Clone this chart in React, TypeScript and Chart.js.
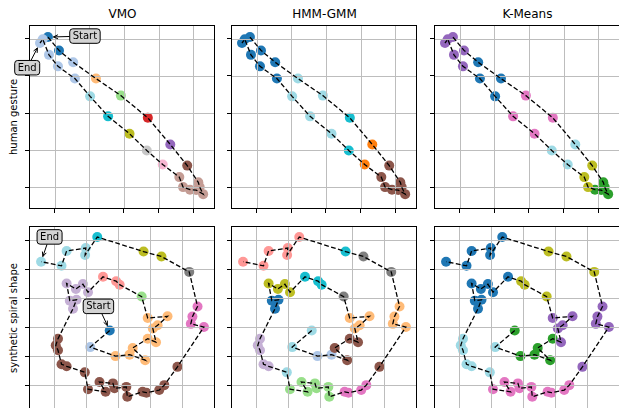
import React, { useEffect, useRef } from 'react';
import { Chart, registerables } from 'chart.js';

Chart.register(...registerables);

const TAB20 = [
  '#1f77b4', '#aec7e8', '#ff7f0e', '#ffbb78', '#2ca02c', '#98df8a', '#d62728', '#ff9896',
  '#9467bd', '#c5b0d5', '#8c564b', '#c49c94', '#e377c2', '#f7b6d2', '#7f7f7f', '#c7c7c7',
  '#bcbd22', '#dbdb8d', '#17becf', '#9edae5',
];

const titles = ['VMO', 'HMM-GMM', 'K-Means'];
const rowLabels = ['human gesture', 'synthetic spiral shape'];

// ---- human gesture trajectory ----
const gestureX = [-0.2, 0.12, 0.53, 1.19, 1.91, 2.69, 3.34, 3.83, 4.15, 4.19, 4.29, 4.09, 3.91, 3.71, 3.6, 3.12, 2.66, 2.16, 1.54, 1.02, 0.58, 0.09, -0.17, -0.35, -0.43];
const gestureY = [4.05, 3.69, 3.37, 2.93, 2.47, 1.87, 1.15, 0.58, 0.13, 0.0, -0.19, -0.08, -0.07, 0.0, 0.27, 0.61, 0.99, 1.44, 1.91, 2.45, 2.93, 3.26, 3.57, 3.99, 3.89];
const gestureVMO = [0, 0, 1, 3, 5, 6, 8, 10, 11, 11, 11, 11, 11, 11, 11, 13, 15, 16, 18, 19, 1, 1, 1, 1, 1];
const gestureHMM = [0, 0, 0, 19, 19, 18, 2, 10, 10, 10, 10, 10, 10, 10, 10, 2, 18, 19, 19, 19, 0, 0, 0, 0, 0];
const gestureKM = [8, 8, 0, 0, 12, 12, 19, 16, 4, 4, 4, 4, 4, 16, 16, 19, 19, 12, 12, 0, 0, 8, 8, 8, 8];
const gestureXTicks = [0, 1, 2, 3, 4];
const gestureYTicks = [0, 1, 2, 3, 4];

// ---- synthetic spiral trajectory ----
const spiralX = [1.74, 1.13, 1.92, 2.36, 2.85, 2.46, 2.93, 3.19, 3.09, 3.24, 3.55, 2.93, 2.74, 2.05, 1.94, 1.53, 1.06, 0.9, 0.68, 0.39, 0.49, 0.7, 0.59, 0.12, 0.05, 0.12, 0.23, 0.39, 0.96, 1.06, 1.61, 1.42, 1.84, 1.89, 2.26, 2.29, 2.77, 2.89, 3.29, 3.45, 3.86, 4.69, 4.28, 4.33, 4.49, 4.23, 3.36, 2.8, 1.35, 0.97, 0.99, 0.39, 0.23, -0.41];
const spiralY = [1.89, 1.32, 1.01, 1.06, 0.87, 1.29, 1.61, 1.49, 1.96, 2.07, 2.38, 2.32, 3.06, 3.47, 3.59, 3.74, 3.21, 3.49, 3.32, 3.51, 2.92, 2.95, 2.64, 1.61, 1.38, 1.21, 0.73, 0.66, 0.45, -0.13, -0.22, 0.12, 0.07, -0.1, -0.05, -0.39, -0.22, -0.25, -0.16, 0.01, 0.64, 2.01, 2.12, 2.37, 2.72, 3.91, 4.44, 4.61, 5.11, 4.49, 4.73, 4.63, 4.12, 4.26];
const spiralVMO = [0, 1, 3, 3, 3, 3, 3, 3, 3, 3, 3, 3, 5, 7, 7, 7, 9, 9, 9, 9, 9, 9, 9, 10, 10, 10, 10, 10, 10, 10, 10, 10, 10, 10, 10, 10, 10, 10, 10, 10, 10, 12, 12, 12, 12, 14, 16, 16, 18, 19, 19, 19, 19, 19];
const spiralHMM = [19, 19, 1, 1, 10, 10, 10, 10, 3, 3, 3, 3, 14, 18, 18, 18, 16, 16, 16, 16, 0, 0, 0, 9, 9, 9, 9, 9, 19, 5, 5, 5, 5, 5, 5, 5, 12, 12, 12, 12, 10, 3, 3, 3, 3, 14, 14, 18, 7, 7, 7, 7, 7, 7];
const spiralKM = [4, 19, 4, 4, 4, 4, 4, 8, 8, 8, 8, 8, 16, 16, 16, 0, 0, 0, 0, 0, 0, 0, 0, 19, 19, 19, 19, 19, 19, 12, 12, 12, 12, 12, 12, 12, 12, 12, 12, 12, 8, 8, 8, 8, 8, 16, 16, 16, 0, 0, 0, 0, 0, 0];
const spiralXTicks = [0, 1, 2, 3, 4, 5];
const spiralYTicks = [0, 1, 2, 3, 4, 5];

type Ann = { index: number; text: string; dx: number; dy: number };

const FONT = '"DejaVu Sans", "Liberation Sans", sans-serif';
const FRAME_W = 187;
const FRAME_H = 185;
const COL_LEFT = [29, 231, 434];
const ROW_TOP = [24, 225];
const PAD_L = 24;
const PAD_T = 4;
const PAD_R = 4;
const PAD_B = 8;

type PanelProps = {
  xs: number[]; ys: number[]; labels: number[];
  xMin: number; xMax: number; yMin: number; yMax: number;
  xTicks: number[]; yTicks: number[];
  anns: Ann[]; left: number; top: number;
};

function drawAnnotation(ctx: CanvasRenderingContext2D, px: number, py: number, a: Ann) {
  const bx = px + a.dx;
  const by = py + a.dy;
  ctx.save();
  ctx.font = `10px ${FONT}`;
  const tw = ctx.measureText(a.text).width;
  const w = tw + 6;
  const h = 14.5;
  const dx = px - bx;
  const dy = py - by;
  const len = Math.hypot(dx, dy);
  const ux = dx / len;
  const uy = dy / len;
  const tx = Math.abs(ux) > 1e-6 ? (w / 2) / Math.abs(ux) : Infinity;
  const ty = Math.abs(uy) > 1e-6 ? (h / 2) / Math.abs(uy) : Infinity;
  const t0 = Math.min(tx, ty);
  const sx = bx + ux * t0;
  const sy = by + uy * t0;
  const shrink = 5.5;
  const ex = px - ux * shrink;
  const ey = py - uy * shrink;
  ctx.strokeStyle = '#000';
  ctx.lineWidth = 1;
  ctx.beginPath();
  ctx.moveTo(sx, sy);
  ctx.lineTo(ex, ey);
  const hl = 5;
  const ang = Math.atan2(ey - sy, ex - sx);
  ctx.moveTo(ex - hl * Math.cos(ang - 0.42), ey - hl * Math.sin(ang - 0.42));
  ctx.lineTo(ex, ey);
  ctx.lineTo(ex - hl * Math.cos(ang + 0.42), ey - hl * Math.sin(ang + 0.42));
  ctx.stroke();
  ctx.beginPath();
  const x0 = bx - w / 2;
  const y0 = by - h / 2;
  (ctx as any).roundRect(x0, y0, w, h, 3);
  ctx.fillStyle = '#d3d3d3';
  ctx.fill();
  ctx.stroke();
  ctx.fillStyle = '#000';
  ctx.textAlign = 'center';
  ctx.textBaseline = 'middle';
  ctx.fillText(a.text, bx, by + 0.5);
  ctx.restore();
}

function Panel(p: PanelProps) {
  const ref = useRef<HTMLCanvasElement>(null);
  useEffect(() => {
    if (!ref.current) return;
    const pts = p.xs.map((x, i) => ({ x, y: p.ys[i] }));
    const colors = p.labels.map((l) => TAB20[l]);
    const gridOver = {
      id: 'gridOver',
      afterDatasetDraw(chart: any, args: any) {
        if (args.index !== 1) return;
        const { ctx, chartArea: a, scales } = chart;
        ctx.save();
        ctx.strokeStyle = '#bdbdbd';
        ctx.lineWidth = 1;
        ctx.beginPath();
        for (const t of p.xTicks) {
          const x = Math.round(scales.x.getPixelForValue(t)) + 0.5;
          if (x < a.left || x > a.right) continue;
          ctx.moveTo(x, a.top);
          ctx.lineTo(x, a.bottom);
        }
        for (const t of p.yTicks) {
          const y = Math.round(scales.y.getPixelForValue(t)) + 0.5;
          if (y < a.top || y > a.bottom) continue;
          ctx.moveTo(a.left, y);
          ctx.lineTo(a.right, y);
        }
        ctx.stroke();
        ctx.restore();
      },
    };
    const frame = {
      id: 'frame',
      afterDraw(chart: any) {
        const { ctx, chartArea: a, scales } = chart;
        ctx.save();
        ctx.strokeStyle = '#000';
        ctx.lineWidth = 1;
        ctx.strokeRect(a.left + 0.5, a.top + 0.5, a.right - a.left - 1, a.bottom - a.top - 1);
        ctx.restore();
        for (const an of p.anns) {
          const px = scales.x.getPixelForValue(p.xs[an.index]);
          const py = scales.y.getPixelForValue(p.ys[an.index]);
          drawAnnotation(ctx, px, py, an);
        }
      },
    };
    const axis = (min: number, max: number, ticks: number[]) => ({
      type: 'linear' as const,
      min,
      max,
      afterBuildTicks: (s: any) => {
        s.ticks = ticks.filter((v) => v >= min && v <= max).map((v) => ({ value: v }));
      },
      ticks: { display: false },
      grid: {
        display: true,
        drawOnChartArea: false,
        drawTicks: true,
        tickLength: 4,
        tickColor: '#000',
        tickWidth: 1,
      },
      border: { display: false },
    });
    const chart = new Chart(ref.current, {
      type: 'scatter',
      data: {
        datasets: [
          {
            type: 'scatter',
            data: pts,
            showLine: true,
            borderColor: '#000',
            borderWidth: 1.3,
            borderDash: [4.8, 2.4],
            pointRadius: 0,
            pointHoverRadius: 0,
            order: 0,
            clip: 0,
          } as any,
          {
            type: 'scatter',
            data: pts,
            showLine: false,
            pointRadius: 5,
            pointHoverRadius: 5,
            pointBackgroundColor: colors,
            pointBorderColor: colors,
            pointBorderWidth: 0,
            order: 1,
            clip: 0,
          } as any,
        ],
      },
      options: {
        responsive: false,
        animation: false,
        events: [],
        devicePixelRatio: 1,
        layout: { padding: { left: PAD_L - 4, top: PAD_T, right: PAD_R, bottom: PAD_B - 4 } },
        plugins: { legend: { display: false }, tooltip: { enabled: false }, title: { display: false } },
        scales: {
          x: axis(p.xMin, p.xMax, p.xTicks),
          y: axis(p.yMin, p.yMax, p.yTicks),
        },
      },
      plugins: [gridOver, frame],
    });
    return () => chart.destroy();
  }, []);
  const w = FRAME_W + PAD_L + PAD_R;
  const h = FRAME_H + PAD_T + PAD_B;
  return (
    <canvas
      ref={ref}
      width={w}
      height={h}
      style={{ position: 'absolute', left: p.left - PAD_L, top: p.top - PAD_T, width: w, height: h }}
    />
  );
}

export default function App() {
  const gestureRange = { xMin: -0.748, xMax: 4.633, yMin: -0.591, yMax: 4.376 };
  const spiralRange = { xMin: -0.788, xMax: 5.037, yMin: -0.846, yMax: 5.49 };
  const gestureLabels = [gestureVMO, gestureHMM, gestureKM];
  const spiralLabels = [spiralVMO, spiralHMM, spiralKM];
  const gestureAnns: Ann[] = [
    { index: 0, text: 'Start', dx: 37, dy: -1 },
    { index: gestureX.length - 1, text: 'End', dx: -12.8, dy: 24.7 },
  ];
  const spiralAnns: Ann[] = [
    { index: 0, text: 'Start', dx: -11.3, dy: -24.2 },
    { index: spiralX.length - 1, text: 'End', dx: 8.5, dy: -24.8 },
  ];
  return (
    <div
      style={{
        position: 'fixed', left: 0, top: 0, width: 619, height: 408, overflow: 'hidden',
        background: '#fff', fontFamily: FONT,
      }}
    >
      {titles.map((t, i) => (
        <div
          key={t}
          style={{
            position: 'absolute', left: COL_LEFT[i], top: 8, width: FRAME_W, textAlign: 'center',
            fontSize: 12, lineHeight: '12px', color: '#000', whiteSpace: 'nowrap',
          }}
        >
          {t}
        </div>
      ))}
      {rowLabels.map((t, r) => (
        <div
          key={t}
          style={{
            position: 'absolute', left: 14, top: ROW_TOP[r] + FRAME_H / 2, fontSize: 10, lineHeight: '10px',
            color: '#000', whiteSpace: 'nowrap', transform: 'translate(-50%, -50%) rotate(-90deg)',
          }}
        >
          {t}
        </div>
      ))}
      {[0, 1, 2].map((c) => (
        <Panel
          key={'g' + c}
          xs={gestureX}
          ys={gestureY}
          labels={gestureLabels[c]}
          {...gestureRange}
          xTicks={gestureXTicks}
          yTicks={gestureYTicks}
          anns={c === 0 ? gestureAnns : []}
          left={COL_LEFT[c]}
          top={ROW_TOP[0]}
        />
      ))}
      {[0, 1, 2].map((c) => (
        <Panel
          key={'s' + c}
          xs={spiralX}
          ys={spiralY}
          labels={spiralLabels[c]}
          {...spiralRange}
          xTicks={spiralXTicks}
          yTicks={spiralYTicks}
          anns={c === 0 ? spiralAnns : []}
          left={COL_LEFT[c]}
          top={ROW_TOP[1]}
        />
      ))}
    </div>
  );
}
